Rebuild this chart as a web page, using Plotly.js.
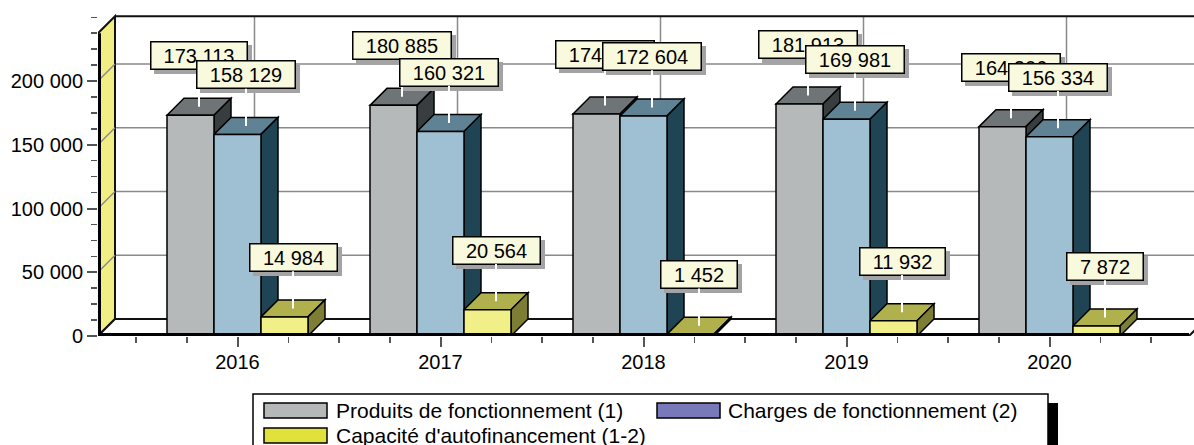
<!DOCTYPE html>
<html><head><meta charset="utf-8">
<script src="https://cdn.plot.ly/plotly-3.0.1.min.js"></script>
<style>html,body{margin:0;padding:0;background:#fff}#chart{width:1194px;height:445px}</style>
</head><body><div id="chart"></div>
<script>
// ---------------- DATA ----------------
const years = ['2016', '2017', '2018', '2019', '2020'];
const produits = [173113, 180885, 174056, 181913, 164206];
const charges = [158129, 160321, 172604, 169981, 156334];
const capacite = [14984, 20564, 1452, 11932, 7872];
const seriesNames = ['Produits de fonctionnement (1)', 'Charges de fonctionnement (2)', "Capacité d'autofinancement (1-2)"];
const yTickVals = [0, 50000, 100000, 150000, 200000];
const yTickText = ['0', '50 000', '100 000', '150 000', '200 000'];

// ---------------- STYLE / GEOMETRY ----------------
const FONT = '"Liberation Sans", Arial, Helvetica, sans-serif';
const W = 1194, H = 445;
const PL = 98, PT = 14, PB = 336, PR = 1194;      // plot area in pixels
const PXX = 203;                                   // px per category
const X0PX = 237.5;                                // pixel of first category
const PXY = 63.75 / 50000;                         // px per unit
const xmin = -(X0PX - PL) / PXX;
const xmax = xmin + (PR - PL) / PXX;
const ymax = (PB - PT) / PXY;
const DX = 17 / PXX, DY = 17 / PXY;                // depth offset
const XEND = (years.length - 1) + (X0PX - PL) / PXX;
const WALL_TOP = 237500;
const BW = 47 / PXX;

const series = [
  {vals: produits, front: '#b5b9ba', top: '#6f7477', side: '#383e40', swatch: '#b4b8b9'},
  {vals: charges,  front: '#9fc0d3', top: '#5f8394', side: '#1f4453', swatch: '#7879b9'},
  {vals: capacite, front: '#f1ef88', top: '#b0b04c', side: '#7d7d33', swatch: '#e1e13c'}
];

function fmt(v) { return String(v).replace(/\B(?=(\d{3})+(?!\d))/g, ' '); }
function path(pts) { return 'M' + pts.map(p => p[0] + ',' + p[1]).join(' L') + ' Z'; }
const px2x = p => (p - PL) / (PR - PL);
const py2y = p => (PB - p) / (PB - PT);

const shapes = [];
const GRID = '#8a8a8a';
// back wall
shapes.push({type: 'path', layer: 'below', xref: 'x', yref: 'y',
  path: path([[xmin + DX, DY], [xmax + 1, DY], [xmax + 1, WALL_TOP + DY], [xmin + DX, WALL_TOP + DY]]),
  fillcolor: '#ffffff', line: {width: 0}});
// horizontal grid on back wall
yTickVals.filter(v => v > 0).forEach(v => {
  shapes.push({type: 'line', layer: 'below', xref: 'x', yref: 'y', x0: xmin + DX, x1: xmax + 1, y0: v + DY, y1: v + DY,
    line: {color: GRID, width: 1.5}});
});
// vertical grid on back wall
years.forEach((y, i) => {
  shapes.push({type: 'line', layer: 'below', xref: 'x', yref: 'y', x0: i + DX, x1: i + DX, y0: DY, y1: WALL_TOP + DY,
    line: {color: GRID, width: 1.5}});
});
// top edge of back wall
shapes.push({type: 'line', layer: 'below', xref: 'x', yref: 'y', x0: xmin + DX, x1: xmax + 1, y0: WALL_TOP + DY, y1: WALL_TOP + DY,
  line: {color: '#111', width: 2}});
// left wall
shapes.push({type: 'path', layer: 'below', xref: 'x', yref: 'y',
  path: path([[xmin, 0], [xmin + DX, DY], [xmin + DX, WALL_TOP + DY], [xmin, WALL_TOP]]),
  fillcolor: '#f0ee84', line: {color: '#111', width: 2}});
yTickVals.filter(v => v > 0).forEach(v => {
  shapes.push({type: 'line', layer: 'below', xref: 'x', yref: 'y', x0: xmin, x1: xmin + DX, y0: v, y1: v + DY,
    line: {color: GRID, width: 1.5}});
});
// floor
shapes.push({type: 'path', layer: 'below', xref: 'x', yref: 'y',
  path: path([[xmin, 0], [xmin + DX, DY], [XEND + DX, DY], [XEND, 0]]),
  fillcolor: '#ffffff', line: {color: '#111', width: 2}});

// 3D faces of bars
series.forEach((s, si) => {
  s.vals.forEach((h, i) => {
    const x0 = i + (si - 1.5) * BW, x1 = x0 + BW;
    shapes.push({type: 'path', layer: 'below', xref: 'x', yref: 'y',
      path: path([[x0, h], [x0 + DX, h + DY], [x1 + DX, h + DY], [x1, h]]),
      fillcolor: s.top, line: {color: '#000', width: 1.5}});
    shapes.push({type: 'path', layer: 'below', xref: 'x', yref: 'y',
      path: path([[x1, 0], [x1 + DX, DY], [x1 + DX, h + DY], [x1, h]]),
      fillcolor: s.side, line: {color: '#000', width: 1.5}});
  });
});

// axis lines (front)
shapes.push({type: 'line', layer: 'above', xref: 'x', yref: 'y', x0: xmin, x1: XEND, y0: 0, y1: 0, line: {color: '#000', width: 6}});
shapes.push({type: 'line', layer: 'above', xref: 'x', yref: 'y', x0: xmin, x1: xmin, y0: 0, y1: WALL_TOP, line: {color: '#000', width: 6}});

// bar traces (front faces)
const traces = series.map((s, si) => ({
  type: 'bar', name: seriesNames[si], x: years.map((y, i) => i), y: s.vals,
  width: BW, offset: (si - 1.5) * BW,
  marker: {color: s.front, line: {color: '#000', width: 1.5}},
  hoverinfo: 'skip', showlegend: false
}));

// value labels
const ctx = document.createElement('canvas').getContext('2d');
ctx.font = '20px "Liberation Sans"';
const annotations = [];
const LBL_BG = '#f9f9dd', SHADOW = '#a3a3a3';
years.forEach((yr, i) => {
  series.forEach((s, si) => {
    const h = s.vals[i];
    const xc = i + (si - 1) * BW + DX / 2;
    const yc = h + DY / 2;
    const txt = fmt(h);
    const tw = Math.ceil(ctx.measureText(txt).width) + 22;
    annotations.push({xref: 'x', yref: 'y', x: xc, y: yc, text: txt, showarrow: false,
      xanchor: 'center', yanchor: 'middle', xshift: 4, yshift: 47,
      width: tw, height: 24, bgcolor: SHADOW, bordercolor: SHADOW, borderwidth: 1.5, borderpad: 1,
      font: {family: FONT, size: 20, color: SHADOW}});
    annotations.push({xref: 'x', yref: 'y', x: xc, y: yc, text: txt, showarrow: true,
      ax: 0, ay: -51, arrowhead: 0, arrowwidth: 2, arrowcolor: '#ffffff',
      width: tw, height: 24, bgcolor: LBL_BG, bordercolor: '#000', borderwidth: 1.5, borderpad: 1,
      font: {family: FONT, size: 20, color: '#000'}});
  });
});

// legend (manual)
shapes.push({type: 'rect', layer: 'above', xref: 'paper', yref: 'paper',
  x0: px2x(1046), x1: px2x(1058), y0: py2y(403), y1: py2y(452), fillcolor: '#000', line: {width: 0}});
shapes.push({type: 'rect', layer: 'above', xref: 'paper', yref: 'paper',
  x0: px2x(253), x1: px2x(1048), y0: py2y(394), y1: py2y(452), fillcolor: '#fff', line: {color: '#000', width: 1.5}});
const legendPos = [[264, 403, 334], [657, 403, 726], [264, 428, 334]];
series.forEach((s, si) => {
  const [sx, sy, tx] = legendPos[si];
  shapes.push({type: 'rect', layer: 'above', xref: 'paper', yref: 'paper',
    x0: px2x(sx), x1: px2x(sx + 63), y0: py2y(sy), y1: py2y(sy + 15), fillcolor: s.swatch, line: {color: '#000', width: 1.5}});
  annotations.push({xref: 'paper', yref: 'paper', x: px2x(tx), y: py2y(sy + 7.5), xanchor: 'left', yanchor: 'middle',
    text: seriesNames[si], showarrow: false, font: {family: FONT, size: 21, color: '#000'}});
});

const layout = {
  width: W, height: H,
  margin: {l: PL, r: W - PR, t: PT, b: H - PB, pad: 0},
  paper_bgcolor: '#fff', plot_bgcolor: 'rgba(0,0,0,0)',
  barmode: 'overlay', showlegend: false,
  font: {family: FONT, size: 20, color: '#000'},
  xaxis: {range: [xmin, xmax], showgrid: false, zeroline: false, showline: false,
    tickmode: 'array', tickvals: years.map((y, i) => i), ticktext: years,
    ticks: 'outside', ticklen: 10, tickwidth: 2, tickcolor: '#555',
    tickfont: {family: FONT, size: 20, color: '#000'}, ticklabelstandoff: -2,
    minor: {tickmode: 'linear', tick0: 0, dtick: 0.25, ticks: 'outside', ticklen: 6, tickwidth: 1.5, tickcolor: '#555', showgrid: false},
    fixedrange: true},
  yaxis: {range: [0, ymax], showgrid: false, zeroline: false, showline: false,
    tickmode: 'array', tickvals: yTickVals, ticktext: yTickText,
    ticks: 'outside', ticklen: 10, tickwidth: 2, tickcolor: '#555',
    tickfont: {family: FONT, size: 20, color: '#000'},
    minor: {tickmode: 'linear', tick0: 0, dtick: 12500, ticks: 'outside', ticklen: 6, tickwidth: 1.5, tickcolor: '#555', showgrid: false},
    fixedrange: true},
  shapes: shapes,
  annotations: annotations
};
Plotly.newPlot('chart', traces, layout, {displayModeBar: false, staticPlot: true});
</script>
</body></html>
